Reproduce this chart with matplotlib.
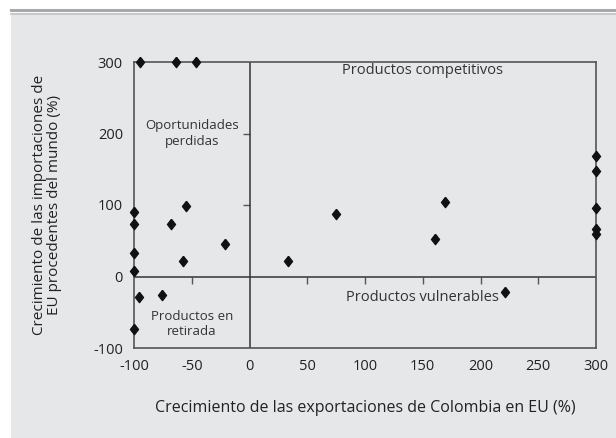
import matplotlib
matplotlib.use("Agg")
import matplotlib.pyplot as plt
from matplotlib.patches import Rectangle
from matplotlib.lines import Line2D

# Data (export growth %, import growth %)
x_vals = [-95, -64, -46, -100, -100, -100, -100, -100, -96, -76, -68, -55, -58, -21,
          33, 75, 161, 169, 221, 300, 300, 300, 300, 300]
y_vals = [300, 300, 300, 90, 73, 33, 8, -74, -29, -26, 73, 99, 22, 45,
          22, 88, 53, 104, -21, 169, 147, 96, 66, 59]

x_ticks = [-100, -50, 0, 50, 100, 150, 200, 250, 300]
y_ticks = [-100, 0, 100, 200, 300]
inner_x_ticks = [-50, 50, 100, 150, 200, 250]
inner_y_ticks = [100, 200]

quad_labels = ["Productos competitivos", "Oportunidades\nperdidas",
               "Productos en\nretirada", "Productos vulnerables"]
quad_pos = [(150, 288), (-50, 200), (-50, -67), (150, -30)]

plt.rcParams['font.family'] = ['Open Sans', 'DejaVu Sans']
fig = plt.figure(figsize=(6.16, 4.38), dpi=100)
fig.patch.set_facecolor('white')

bg = '#e6e7e8'
fig.add_artist(Rectangle((11/616, 0), 1 - 11/616, 1 - 15/438, transform=fig.transFigure,
                         facecolor=bg, edgecolor='none', zorder=-10))
fig.add_artist(Line2D([11/616, 1], [1 - 10/438, 1 - 10/438], transform=fig.transFigure,
                      color='#a7a9ac', lw=2.2))
fig.add_artist(Line2D([11/616, 1], [1 - 14/438, 1 - 14/438], transform=fig.transFigure,
                      color='#bcbec0', lw=1.2))

left, right = 134/616, 596/616
top, bottom = 1 - 62/438, 1 - 348/438
rect = [left, bottom, right - left, top - bottom]

# Zero axes with small ticks (drawn underneath)
ax2 = fig.add_axes(rect)
ax2.set_facecolor(bg)
ax2.set_xlim(-100, 300)
ax2.set_ylim(-100, 300)
for k in ['top', 'right', 'left', 'bottom']:
    ax2.spines[k].set_visible(False)
ax2.spines['left'].set_position(('data', 0))
ax2.spines['bottom'].set_position(('data', 0))
ax2.set_xticks(inner_x_ticks)
ax2.set_yticks(inner_y_ticks)
ax2.tick_params(direction='out', length=5, width=1, colors='#555555',
                labelbottom=False, labelleft=False)

ax = fig.add_axes(rect)
ax.patch.set_visible(False)
ax.set_xlim(-100, 300)
ax.set_ylim(-100, 300)
for s in ax.spines.values():
    s.set_color('#555555')
    s.set_linewidth(1.2)
ax.set_xticks(x_ticks)
ax.set_xticklabels([str(v) for v in x_ticks])
ax.set_yticks(y_ticks)
ax.set_yticklabels([str(v) for v in y_ticks])
ax.tick_params(length=0, labelsize=10.5, colors='#222222', pad=8)

ax.axhline(0, color='#333333', lw=1.1)
ax.axvline(0, color='#333333', lw=1.1)

diamond = [(0, 1), (0.78, 0), (0, -1), (-0.78, 0), (0, 1)]
ax.scatter(x_vals, y_vals, marker=diamond, s=55, color='#111111', zorder=5, clip_on=False)

for t, (px, py) in zip(quad_labels, quad_pos):
    ax.text(px, py, t, ha='center', va='center', fontsize=9.5 if '\n' in t else 10.5,
            color='#333333', linespacing=1.2)

ax.set_xlabel("Crecimiento de las exportaciones de Colombia en EU (%)", fontsize=11.5,
              color='#222222', labelpad=19)
ax.set_ylabel("Crecimiento de las importaciones de\nEU procedentes del mundo (%)",
              fontsize=11, color='#222222', labelpad=22, linespacing=1.0)

fig.savefig('out.png', dpi=100, facecolor=fig.get_facecolor())
